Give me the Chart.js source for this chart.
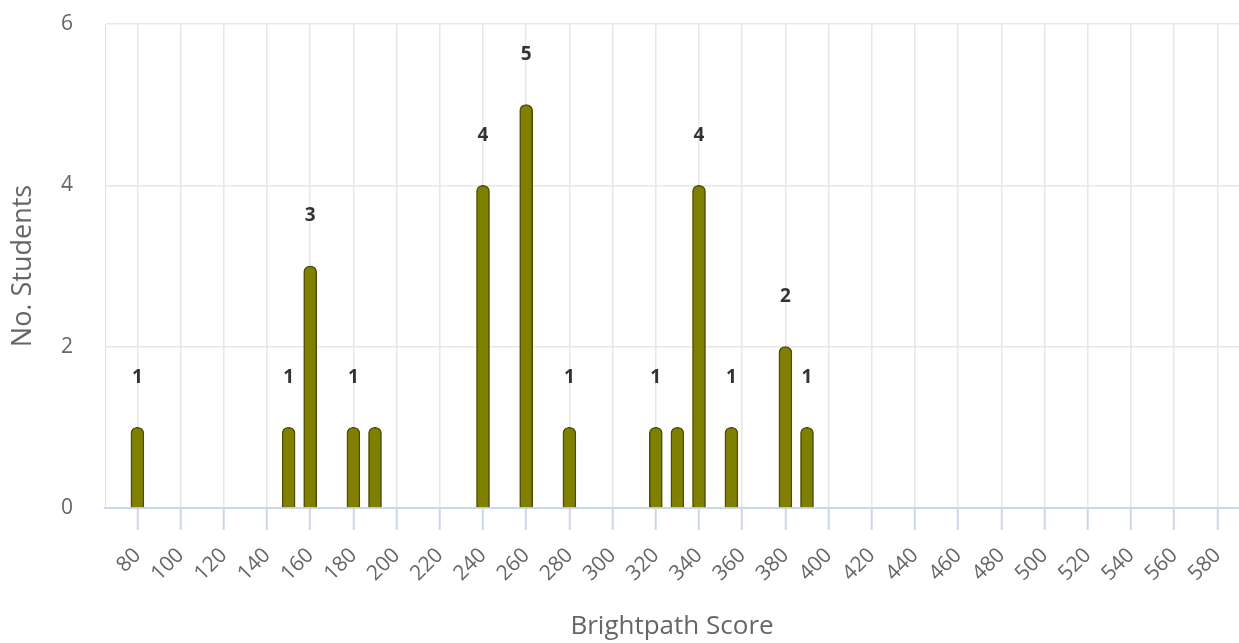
<!DOCTYPE html>
<html>
<head>
<meta charset="utf-8">
<script src="https://cdn.jsdelivr.net/npm/chart.js@4/dist/chart.umd.min.js"></script>
<style>
  html, body { margin: 0; padding: 0; background: #ffffff; }
  #wrap { position: relative; width: 1239px; height: 643px; }
</style>
</head>
<body>
<div id="wrap"><canvas id="c" width="1239" height="643"></canvas></div>
<script>
// ---- Data ----
const scores   = [80, 150, 160, 180, 190, 240, 260, 280, 320, 330, 340, 355, 380, 390];
const students = [1,  1,   3,   1,   1,   4,   5,   1,   1,   1,   4,   1,   2,   1];
const xTicks   = [80, 100, 120, 140, 160, 180, 200, 220, 240, 260, 280, 300, 320, 340, 360, 380, 400, 420, 440, 460, 480, 500, 520, 540, 560, 580];
const yTicks   = [0, 2, 4, 6];
const xTitle = 'Brightpath Score';
const yTitle = 'No. Students';

const FONT = '"Open Sans", "Noto Sans", sans-serif';

// Data labels with simple overlap hiding (first drawn wins)
const labelPlugin = {
  id: 'barLabels',
  afterDatasetsDraw(chart) {
    const ctx = chart.ctx;
    const meta = chart.getDatasetMeta(0);
    const ys = chart.scales.y;
    ctx.save();
    ctx.font = 'bold 19px ' + FONT;
    ctx.fillStyle = '#333333';
    ctx.textAlign = 'center';
    ctx.textBaseline = 'middle';
    const placed = [];
    meta.data.forEach((el, i) => {
      const v = students[i];
      const txt = String(v);
      const cx = el.x;
      const cy = ys.getPixelForValue(v) - 50;
      const w = ctx.measureText(txt).width + 16;
      const h = 24;
      const box = {l: cx - w / 2, r: cx + w / 2, t: cy - h / 2, b: cy + h / 2};
      const hit = placed.some(p => !(box.r <= p.l || box.l >= p.r || box.b <= p.t || box.t >= p.b));
      if (hit) return;
      placed.push(box);
      ctx.fillText(txt, cx, cy);
    });
    ctx.restore();
  }
};

new Chart(document.getElementById('c'), {
  type: 'bar',
  data: {
    datasets: [{
      data: scores.map((s, i) => ({x: s, y: students[i]})),
      backgroundColor: '#808000',
      borderColor: '#4d4d00',
      borderWidth: 1.5,
      borderSkipped: 'start',
      borderRadius: {topLeft: 6, topRight: 6, bottomLeft: 0, bottomRight: 0},
      barThickness: 13
    }]
  },
  options: {
    responsive: false,
    animation: false,
    layout: { padding: { top: 24, right: 0, left: 0, bottom: 0 } },
    plugins: { legend: { display: false }, tooltip: { enabled: false } },
    scales: {
      x: {
        type: 'linear',
        offset: false,
        min: 65,
        max: 590,
        afterBuildTicks: s => { s.ticks = xTicks.map(v => ({value: v})); },
        afterFit: s => {
          s.height = 135;
          s.paddingTop = 0; s.paddingBottom = 0;
          s.paddingLeft = 0; s.paddingRight = 0;
        },
        ticks: {
          autoSkip: false,
          minRotation: 45,
          maxRotation: 45,
          padding: 13,
          color: '#666666',
          font: { family: FONT, size: 21 }
        },
        grid: {
          offset: false,
          color: '#e8e8e8',
          lineWidth: 1.5,
          tickColor: '#ccd6eb',
          tickLength: 22,
          tickWidth: 2
        },
        border: { color: '#ccd6eb', width: 2 },
        title: {
          display: true,
          text: xTitle,
          color: '#666666',
          font: { family: FONT, size: 26 },
          padding: { top: 0, bottom: 1 }
        }
      },
      y: {
        min: 0,
        max: 6,
        afterBuildTicks: s => { s.ticks = yTicks.map(v => ({value: v})); },
        afterFit: s => { s.width = 105; s.paddingTop = 0; s.paddingBottom = 0; },
        ticks: {
          padding: 32,
          color: '#666666',
          font: { family: FONT, size: 21 }
        },
        grid: {
          drawTicks: false,
          lineWidth: 1.5,
          color: c => (c.tick && c.tick.value === 0) ? 'rgba(0,0,0,0)' : '#e8e8e8'
        },
        border: { color: '#d8e0ef', width: 1 },
        title: {
          display: true,
          text: yTitle,
          color: '#666666',
          font: { family: FONT, size: 27 },
          padding: { top: 7, bottom: 0 }
        }
      }
    }
  },
  plugins: [labelPlugin]
});
</script>
</body>
</html>
